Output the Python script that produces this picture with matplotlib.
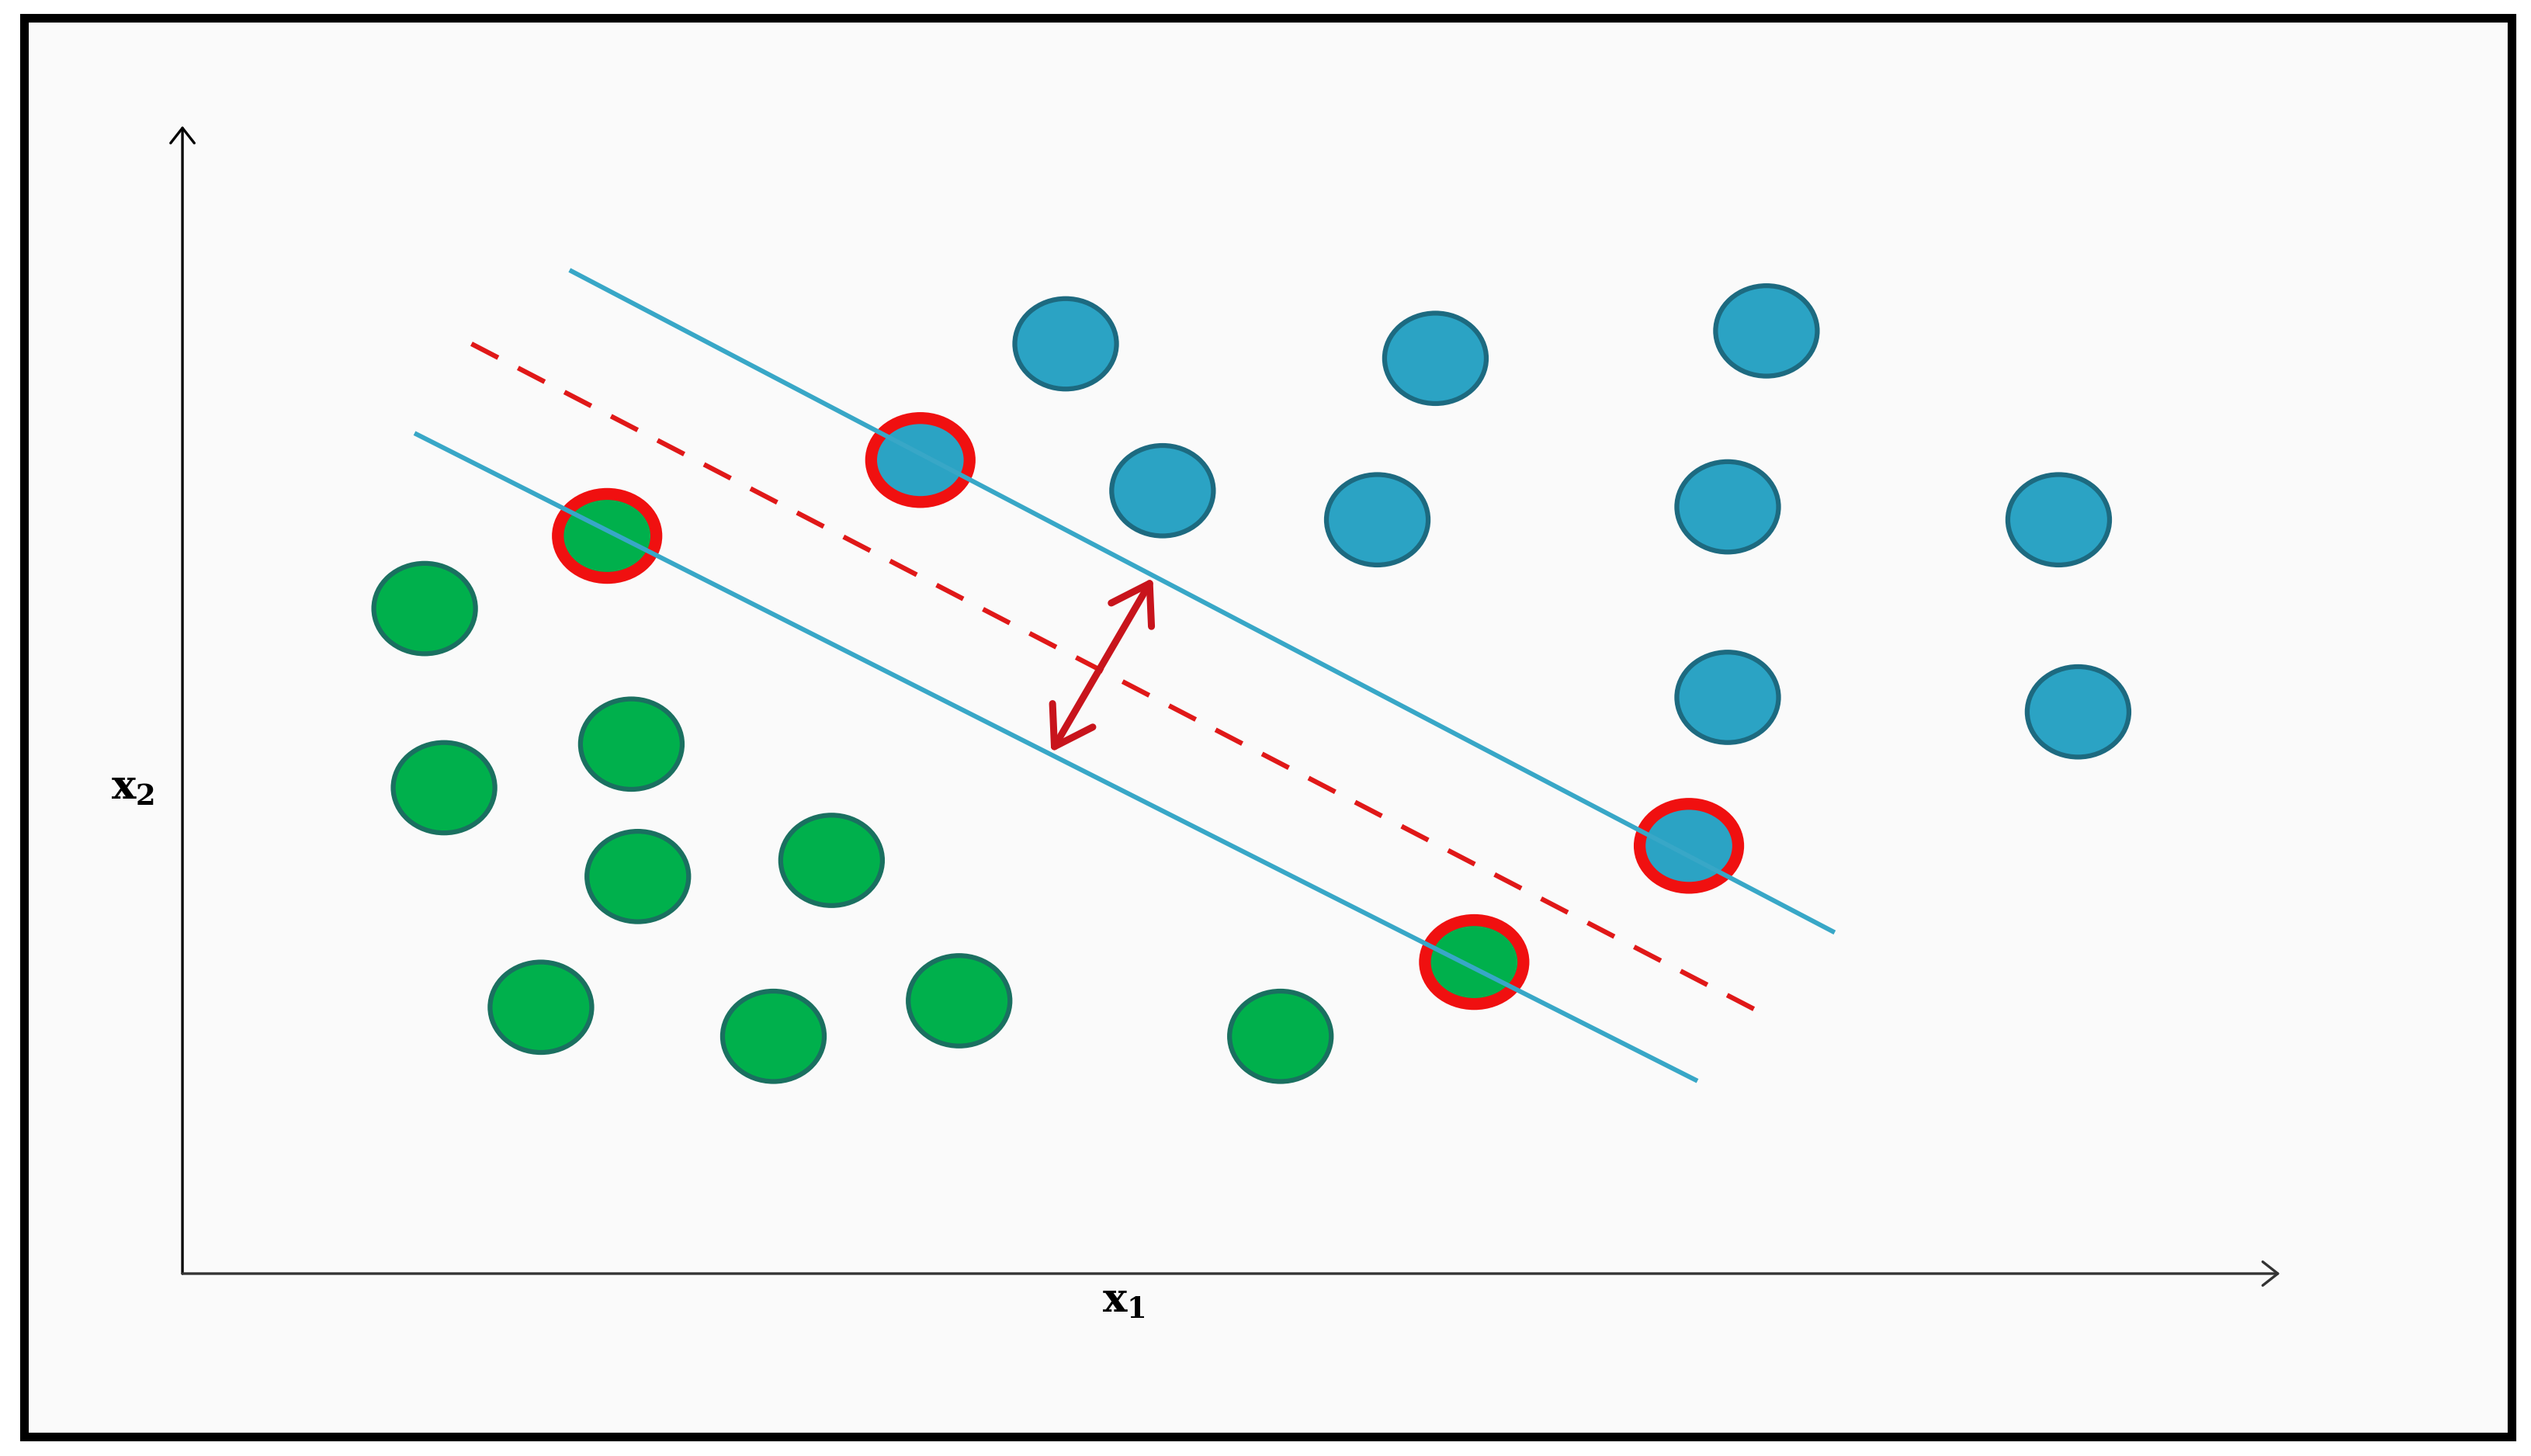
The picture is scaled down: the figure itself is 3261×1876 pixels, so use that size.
import numpy as np
import matplotlib.pyplot as plt
from matplotlib.patches import Ellipse, Rectangle

plt.rcParams['mathtext.fontset'] = 'dejavuserif'

# class +1 (blue) points
blue_x = [5.47, 7.76, 9.81, 6.07, 7.40, 9.57, 11.62, 9.57, 11.74]
blue_y = [5.76, 5.67, 5.84, 4.85, 4.67, 4.75, 4.67, 3.57, 3.48]
# class -1 (green) points
green_x = [1.50, 2.78, 1.62, 2.82, 4.02, 2.22, 3.66, 4.81, 6.80]
green_y = [4.12, 3.28, 3.01, 2.46, 2.56, 1.65, 1.47, 1.69, 1.47]
# support vectors
sv_blue_x = [4.57, 9.33]
sv_blue_y = [5.04, 2.65]
sv_green_x = [2.63, 8.00]
sv_green_y = [4.57, 1.93]

# margin lines and hyperplane (end points)
upper_x = [2.41, 10.22]
upper_y = [6.21, 2.12]
hyper_x = [1.79, 9.75]
hyper_y = [5.76, 1.63]
lower_x = [1.45, 9.37]
lower_y = [5.20, 1.20]
margin_start = (5.38, 3.23)
margin_end = (6.01, 4.31)

BLUE = '#2ba3c4'
BLUE_EDGE = '#1d6a80'
GREEN = '#00b04c'
GREEN_EDGE = '#1a7060'
RED = '#f01010'
LINE = '#38a7c7'

fig = plt.figure(figsize=(32.62, 18.76), dpi=100)
fig.patch.set_facecolor('white')

ax = fig.add_axes([0, 0, 1, 1])
ax.set_xlim(-1.13, 14.55)
ax.set_ylim(-1.13, 7.89)
ax.axis('off')
ax.add_patch(Rectangle((0.0095, 0.0135), 0.9825, 0.9745, transform=ax.transAxes,
                       facecolor='#fafafa', edgecolor='black', linewidth=8, zorder=0,
                       clip_on=False))

def circles(xs, ys, face, edge, w, h, lw):
    for x, y in zip(xs, ys):
        ax.add_patch(Ellipse((x, y), w, h, facecolor=face, edgecolor=edge, linewidth=lw, zorder=2))

circles(blue_x, blue_y, BLUE, BLUE_EDGE, 0.63, 0.56, 4.5)
circles(green_x, green_y, GREEN, GREEN_EDGE, 0.63, 0.56, 4.5)
circles(sv_blue_x, sv_blue_y, BLUE, RED, 0.61, 0.52, 11)
circles(sv_green_x, sv_green_y, GREEN, RED, 0.61, 0.52, 11)

ax.plot(upper_x, upper_y, color=LINE, lw=4.3, zorder=3)
ax.plot(lower_x, lower_y, color=LINE, lw=4.3, zorder=3)
ax.plot(hyper_x, hyper_y, color='#e01818', lw=4.5, dashes=(6.2, 4.6), zorder=3)

ax.annotate('', xy=margin_end, xytext=margin_start,
            arrowprops=dict(arrowstyle='<->,head_length=0.7,head_width=0.45', color='#c8141c',
                            lw=6.5, mutation_scale=48, shrinkA=0, shrinkB=0), zorder=4)

# coordinate axes
ax.annotate('', xy=(0, 7.11), xytext=(0, 0),
            arrowprops=dict(arrowstyle='->,head_length=0.7,head_width=0.55', color='black',
                            lw=2.4, mutation_scale=20, shrinkA=0, shrinkB=0))
ax.annotate('', xy=(12.99, 0), xytext=(0, 0),
            arrowprops=dict(arrowstyle='->,head_length=0.7,head_width=0.55', color='#333333',
                            lw=2.4, mutation_scale=20, shrinkA=0, shrinkB=0))

ax.text(5.83, -0.17, r'$\mathbf{x}_\mathbf{1}$', fontsize=38, ha='center', va='center')
ax.text(-0.31, 3.01, r'$\mathbf{x}_\mathbf{2}$', fontsize=38, ha='center', va='center')

fig.savefig('out.png', dpi=100)
